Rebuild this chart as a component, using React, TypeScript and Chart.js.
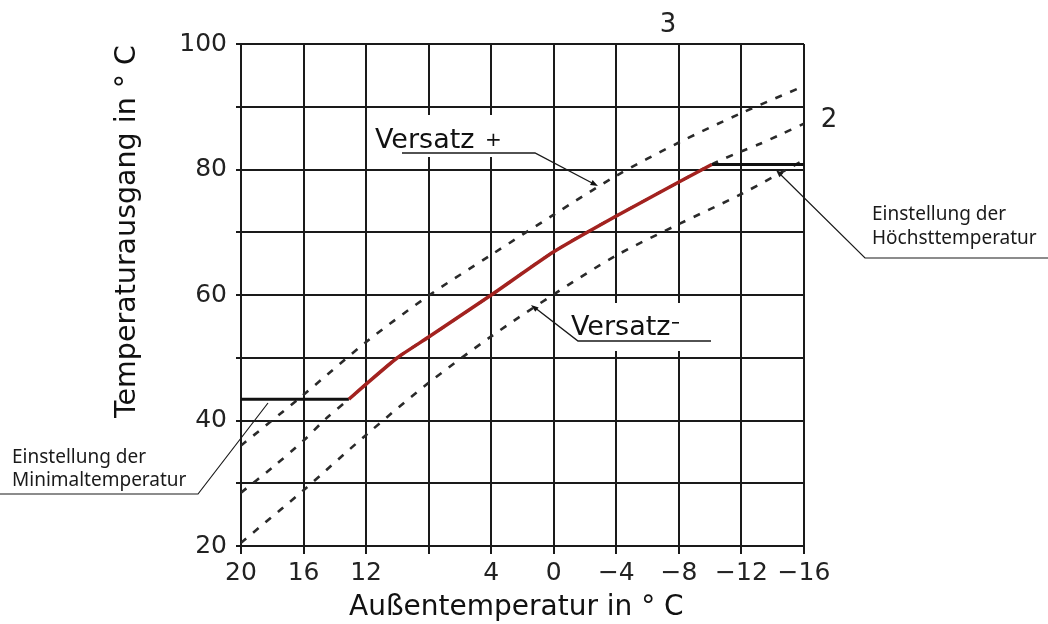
import React, { useEffect, useRef } from "react";
import { Chart, registerables } from "chart.js";

Chart.register(...registerables);

// Outside temperature grid (°C) and labels
const xTickValues = [20, 16, 12, 8, 4, 0, -4, -8, -12, -16];
const xTickLabels = ["20", "16", "12", "", "4", "0", "\u22124", "\u22128", "\u221212", "\u221216"];
const yTickValues = [20, 30, 40, 50, 60, 70, 80, 90, 100];
const yTickLabels = ["20", "", "40", "", "60", "", "80", "", "100"];

// Heating curve "3" (upper dashed, Versatz +)
const curve3X = [20, 16, 12, 8, 4, 0, -4, -8, -12, -16];
const curve3Y = [36, 44.1, 52.5, 59.9, 66.4, 72.8, 79, 84.3, 89, 93.3];

// Heating curve "2" (middle dashed)
const curve2X = [20, 18, 16, 14.57, 13.1, 12, 10, 8, 4, 0, -4, -8, -10.1, -11.9, -13.2, -14.35, -16];
const curve2Y = [28.5, 32.5, 36.8, 40.3, 43.4, 45.8, 50, 53.3, 60, 66.9, 72.6, 78, 80.8, 82.8, 84.1, 85.4, 87.3];

// Lower dashed curve (Versatz -)
const curveLowX = [20, 16, 12, 8, 4, 0, -4, -8, -12, -16];
const curveLowY = [20.5, 28.9, 37.7, 46.0, 53.4, 60.1, 66.3, 71.3, 76.1, 81.5];

// Active (red) curve
const activeX = [13.1, 12, 10, 8, 4, 0, -4, -8, -10.1];
const activeY = [43.4, 45.8, 50, 53.3, 60, 66.9, 72.6, 78, 80.8];

// Minimum / maximum setting lines
const minLineX = [20, 13.1];
const minLineY = [43.4, 43.4];
const maxLineX = [-10.1, -16];
const maxLineY = [80.8, 80.8];

const pts = (xs: number[], ys: number[]) => xs.map((x, i) => ({ x, y: ys[i] }));

const FONT = "'DejaVu Sans', Verdana, sans-serif";

function arrowHead(ctx: CanvasRenderingContext2D, x0: number, y0: number, x1: number, y1: number) {
  const a = Math.atan2(y1 - y0, x1 - x0);
  const L = 8;
  const w = 0.35;
  ctx.beginPath();
  ctx.moveTo(x1, y1);
  ctx.lineTo(x1 - L * Math.cos(a - w), y1 - L * Math.sin(a - w));
  ctx.lineTo(x1 - L * Math.cos(a + w), y1 - L * Math.sin(a + w));
  ctx.closePath();
  ctx.fill();
}

const annotationPlugin = {
  id: "annotations",
  afterDraw(chart: any) {
    const ctx: CanvasRenderingContext2D = chart.ctx;
    ctx.save();
    ctx.fillStyle = "#1a1a1a";
    ctx.strokeStyle = "#1a1a1a";

    // Versatz +
    ctx.fillStyle = "#fff";
    ctx.fillRect(372, 115, 132, 42);
    ctx.fillStyle = "#111";
    ctx.font = `27px ${FONT}`;
    ctx.textBaseline = "alphabetic";
    ctx.textAlign = "left";
    ctx.fillText("Versatz", 375, 148);
    ctx.font = `20px ${FONT}`;
    ctx.fillText("+", 485, 146);
    ctx.lineWidth = 1.4;
    ctx.beginPath();
    ctx.moveTo(402, 153);
    ctx.lineTo(535, 153);
    ctx.lineTo(594, 184);
    ctx.stroke();
    arrowHead(ctx, 535, 153, 598, 186);

    // Versatz -
    ctx.fillStyle = "#fff";
    ctx.fillRect(566, 303, 150, 48);
    ctx.fillStyle = "#111";
    ctx.font = `27px ${FONT}`;
    ctx.fillText("Versatz", 571, 335);
    ctx.fillRect(672, 322, 7, 1.6);
    ctx.lineWidth = 1.4;
    ctx.beginPath();
    ctx.moveTo(711, 341);
    ctx.lineTo(578, 341);
    ctx.lineTo(534, 307);
    ctx.stroke();
    arrowHead(ctx, 578, 341, 531, 305);

    // Höchsttemperatur
    ctx.font = `19px 'Noto Sans', ${FONT}`;
    ctx.fillStyle = "#1a1a1a";
    ctx.fillText("Einstellung der", 872, 220);
    ctx.fillText("Höchsttemperatur", 872, 244);
    ctx.lineWidth = 1.2;
    ctx.beginPath();
    ctx.moveTo(1048, 258);
    ctx.lineTo(865, 258);
    ctx.lineTo(779, 173);
    ctx.stroke();
    arrowHead(ctx, 865, 258, 776, 170);

    // Minimaltemperatur
    ctx.fillText("Einstellung der", 12, 463);
    ctx.fillText("Minimaltemperatur", 12, 486);
    ctx.beginPath();
    ctx.moveTo(0, 494);
    ctx.lineTo(198, 494);
    ctx.lineTo(268, 403);
    ctx.stroke();

    // curve labels
    ctx.font = `26px ${FONT}`;
    ctx.fillStyle = "#222";
    ctx.textAlign = "center";
    ctx.fillText("3", 668, 32);
    ctx.fillText("2", 829, 127);

    // axis titles
    ctx.fillStyle = "#111";
    ctx.font = `28px ${FONT}`;
    ctx.textAlign = "left";
    ctx.fillText("Außentemperatur in ° C", 349, 615);
    ctx.translate(135, 418);
    ctx.rotate(-Math.PI / 2);
    ctx.font = `28.5px ${FONT}`;
    ctx.fillText("Temperaturausgang in ° C", 0, 0);
    ctx.restore();
  },
};

export default function App() {
  const ref = useRef<HTMLCanvasElement | null>(null);

  useEffect(() => {
    document.body.style.margin = "0";
    const canvas = ref.current;
    if (!canvas) return;
    const dashStyle = {
      borderColor: "#2a2a2a",
      borderWidth: 2.6,
      borderDash: [7, 9],
      pointRadius: 0,
      fill: false,
      tension: 0.3,
    };
    const chart = new Chart(canvas, {
      type: "line",
      data: {
        datasets: [
          {
            data: pts(activeX, activeY),
            borderColor: "#a3221f",
            borderWidth: 3.5,
            pointRadius: 0,
            tension: 0.2,
          } as any,
          { data: pts(minLineX, minLineY), borderColor: "#111", borderWidth: 3, pointRadius: 0 } as any,
          { data: pts(maxLineX, maxLineY), borderColor: "#111", borderWidth: 3, pointRadius: 0 } as any,
          { data: pts(curve3X, curve3Y), ...dashStyle } as any,
          { data: pts(curve2X, curve2Y), ...dashStyle } as any,
          { data: pts(curveLowX, curveLowY), ...dashStyle } as any,
        ],
      },
      options: {
        responsive: false,
        animation: false,
        events: [],
        layout: { padding: { top: 44, right: 244, left: 0, bottom: 0 } },
        plugins: { legend: { display: false }, tooltip: { enabled: false } },
        scales: {
          x: {
            type: "linear",
            reverse: true,
            min: -16,
            max: 20,
            afterFit: (s: any) => {
              s.height = 78;
            },
            afterBuildTicks: (s: any) => {
              s.ticks = xTickValues.map((v) => ({ value: v }));
            },
            grid: { color: "#1a1a1a", lineWidth: 2, tickLength: 8, tickColor: "#1a1a1a" },
            border: { display: true, color: "#1a1a1a", width: 2 },
            ticks: {
              autoSkip: false,
              maxRotation: 0,
              padding: 4,
              color: "#222",
              font: { family: FONT, size: 25 },
              callback: (v: any) => {
                const i = xTickValues.indexOf(Number(v));
                return i >= 0 ? xTickLabels[i] : "";
              },
            },
          },
          y: {
            type: "linear",
            min: 20,
            max: 100,
            afterFit: (s: any) => {
              s.width = 241;
            },
            afterBuildTicks: (s: any) => {
              s.ticks = yTickValues.map((v) => ({ value: v }));
            },
            grid: { color: "#1a1a1a", lineWidth: 2, tickLength: 5, tickColor: "#1a1a1a" },
            border: { display: true, color: "#1a1a1a", width: 2 },
            ticks: {
              autoSkip: false,
              padding: 9,
              color: "#222",
              font: { family: FONT, size: 25 },
              callback: (v: any) => {
                const i = yTickValues.indexOf(Number(v));
                return i >= 0 ? yTickLabels[i] : "";
              },
            },
          },
        },
      },
      plugins: [annotationPlugin],
    });
    return () => chart.destroy();
  }, []);

  return (
    <div style={{ width: 1048, height: 624, background: "#fff" }}>
      <canvas ref={ref} width={1048} height={624} />
    </div>
  );
}
